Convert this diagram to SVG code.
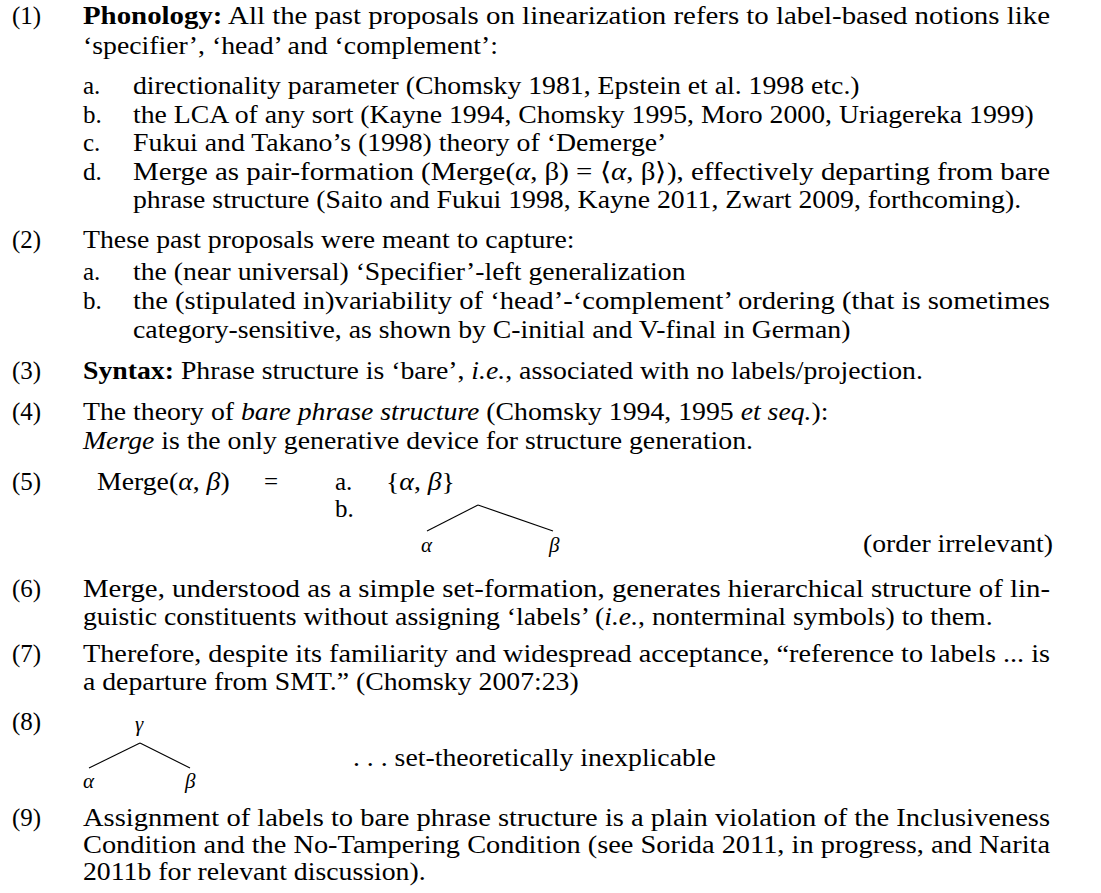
<svg xmlns="http://www.w3.org/2000/svg" width="1101" height="893" viewBox="0 0 1101 893">
<style>
text{font-family:"Liberation Serif","Times New Roman",serif;font-size:25px;fill:#000}
.i{font-style:italic}
.b{font-weight:bold}
.s{font-size:21px;font-style:italic}
line{stroke:#000;stroke-width:1.1}
</style>
<rect width="1101" height="893" fill="#fff"/>
<g id="ex1">
<text x="12" y="24">(1)</text>
<text x="83" y="24" textLength="967" lengthAdjust="spacingAndGlyphs"><tspan class="b">Phonology:</tspan> All the past proposals on linearization refers to label-based notions like</text>
<text transform="translate(83 54) scale(1.11 1)">‘specifier’, ‘head’ and ‘complement’:</text>
<text x="83" y="94">a.</text><text transform="translate(133 94) scale(1.11 1)">directionality parameter (Chomsky 1981, Epstein et al. 1998 etc.)</text>
<text x="83" y="123">b.</text><text transform="translate(133 123) scale(1.11 1)">the LCA of any sort (Kayne 1994, Chomsky 1995, Moro 2000, Uriagereka 1999)</text>
<text x="83" y="151">c.</text><text transform="translate(133 151) scale(1.11 1)">Fukui and Takano’s (1998) theory of ‘Demerge’</text>
<text x="83" y="180">d.</text><text x="133" y="180" textLength="917" lengthAdjust="spacingAndGlyphs">Merge as pair-formation (Merge(<tspan class="i">α</tspan>, β) = ⟨<tspan class="i">α</tspan>, β⟩), effectively departing from bare</text>
<text transform="translate(133 208) scale(1.11 1)">phrase structure (Saito and Fukui 1998, Kayne 2011, Zwart 2009, forthcoming).</text>
</g>
<g id="ex2">
<text x="12" y="248">(2)</text>
<text transform="translate(83 248) scale(1.11 1)">These past proposals were meant to capture:</text>
<text x="83" y="280">a.</text><text transform="translate(133 280) scale(1.11 1)">the (near universal) ‘Specifier’-left generalization</text>
<text x="83" y="309">b.</text><text x="133" y="309" textLength="917" lengthAdjust="spacingAndGlyphs">the (stipulated in)variability of ‘head’-‘complement’ ordering (that is sometimes</text>
<text transform="translate(133 338) scale(1.11 1)">category-sensitive, as shown by C-initial and V-final in German)</text>
</g>
<g id="ex3">
<text x="12" y="379">(3)</text>
<text transform="translate(83 379) scale(1.11 1)"><tspan class="b">Syntax:</tspan> Phrase structure is ‘bare’, <tspan class="i">i.e.</tspan>, associated with no labels/projection.</text>
</g>
<g id="ex4">
<text x="12" y="420">(4)</text>
<text transform="translate(83 420) scale(1.11 1)">The theory of <tspan class="i">bare phrase structure</tspan> (Chomsky 1994, 1995 <tspan class="i">et seq.</tspan>):</text>
<text transform="translate(83 449) scale(1.11 1)"><tspan class="i">Merge</tspan> is the only generative device for structure generation.</text>
</g>
<g id="ex5">
<text x="12" y="490">(5)</text>
<text transform="translate(97 490) scale(1.11 1)">Merge(<tspan class="i">α</tspan>, <tspan class="i">β</tspan>)</text>
<text x="264" y="490">=</text>
<text x="335" y="490">a.</text>
<text transform="translate(386 490) scale(1.11 1)">{<tspan class="i">α</tspan>, <tspan class="i">β</tspan>}</text>
<text x="335" y="517">b.</text>
<line x1="427" y1="531" x2="478" y2="505"/>
<line x1="478" y1="505" x2="553" y2="531"/>
<text class="s" x="421" y="552">α</text>
<text class="s" x="549" y="552">β</text>
<text x="863" y="552" textLength="190" lengthAdjust="spacingAndGlyphs">(order irrelevant)</text>
</g>
<g id="ex6">
<text x="12" y="597">(6)</text>
<text x="83" y="597" textLength="967" lengthAdjust="spacingAndGlyphs">Merge, understood as a simple set-formation, generates hierarchical structure of lin-</text>
<text transform="translate(83 625) scale(1.11 1)">guistic constituents without assigning ‘labels’ (<tspan class="i">i.e.</tspan>, nonterminal symbols) to them.</text>
</g>
<g id="ex7">
<text x="12" y="662">(7)</text>
<text x="83" y="662" textLength="967" lengthAdjust="spacingAndGlyphs">Therefore, despite its familiarity and widespread acceptance, “reference to labels ... is</text>
<text transform="translate(83 690) scale(1.11 1)">a departure from SMT.” (Chomsky 2007:23)</text>
</g>
<g id="ex8">
<text x="12" y="730">(8)</text>
<text class="s" x="135" y="731">γ</text>
<line x1="89" y1="768" x2="140" y2="743"/>
<line x1="140" y1="743" x2="190" y2="768"/>
<text class="s" x="83" y="788">α</text>
<text class="s" x="185" y="788">β</text>
<text transform="translate(353 766) scale(1.11 1)">. . . set-theoretically inexplicable</text>
</g>
<g id="ex9">
<text x="12" y="826">(9)</text>
<text x="83" y="826" textLength="967" lengthAdjust="spacingAndGlyphs">Assignment of labels to bare phrase structure is a plain violation of the Inclusiveness</text>
<text x="83" y="853" textLength="967" lengthAdjust="spacingAndGlyphs">Condition and the No-Tampering Condition (see Sorida 2011, in progress, and Narita</text>
<text transform="translate(83 880) scale(1.11 1)">2011b for relevant discussion).</text>
</g>
</svg>
